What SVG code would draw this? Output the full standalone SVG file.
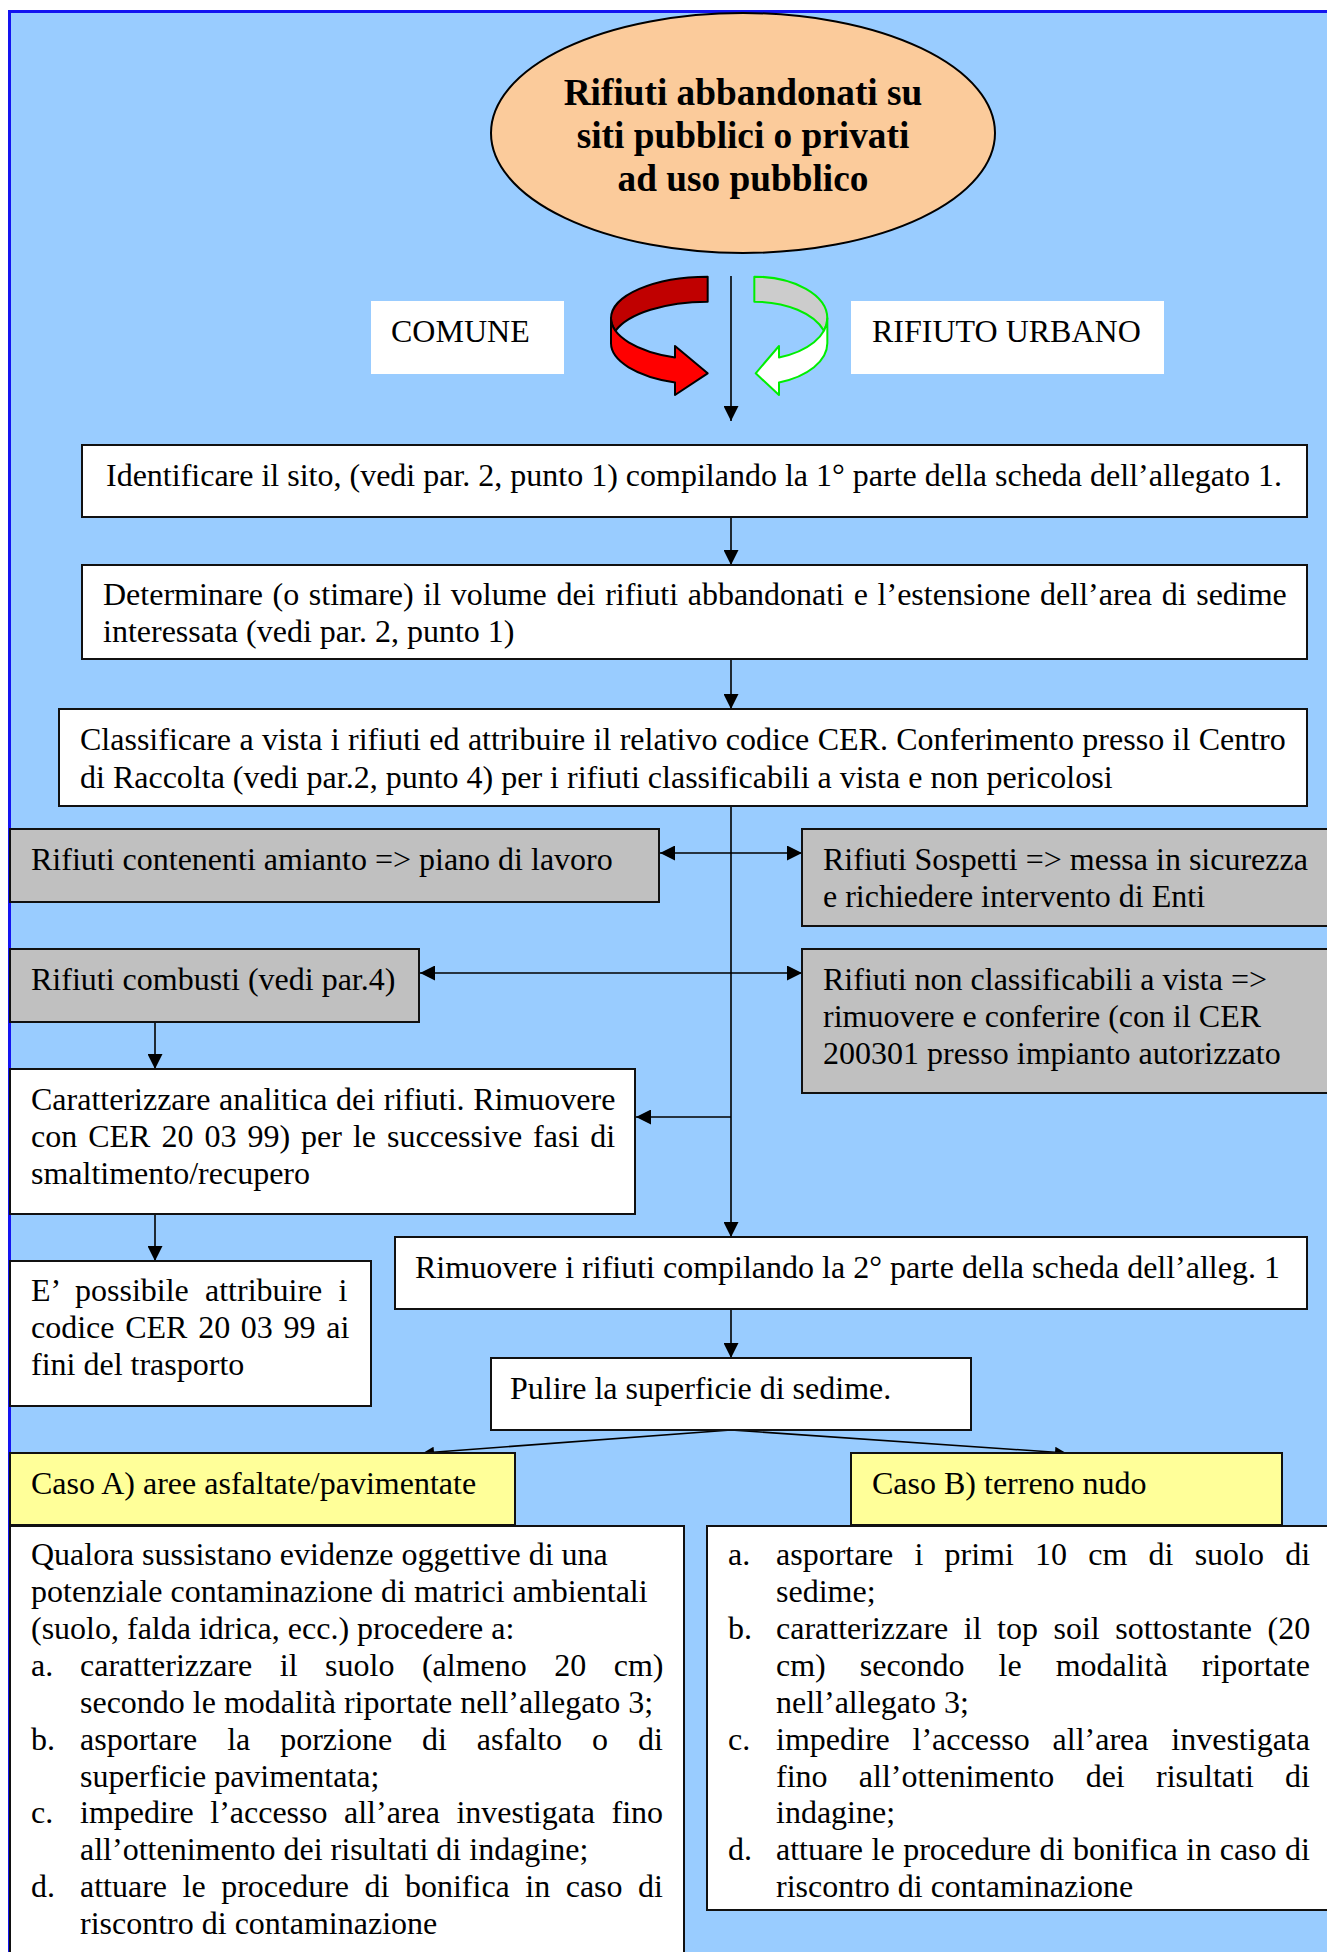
<svg xmlns="http://www.w3.org/2000/svg" width="1327" height="1952" viewBox="0 0 1327 1952">
<defs>
<style>
text{font-family:"Liberation Serif","Times New Roman",serif;font-size:32px;fill:#000}
.t{font-weight:bold;font-size:37.3px}
.w{fill:#FFFFFF;stroke:#111;stroke-width:2}
.g{fill:#C0C0C0;stroke:#111;stroke-width:2}
.y{fill:#FFFF99;stroke:#111;stroke-width:2}
.n{fill:#FFFFFF;stroke:none}
.c{fill:none;stroke:#000;stroke-width:1.6}
</style>
<marker id="ah" viewBox="0 0 16 16" refX="16" refY="8" markerWidth="15" markerHeight="15" markerUnits="userSpaceOnUse" orient="auto-start-reverse">
<path d="M0,0 L16,8 L0,16 Z" fill="#000"/>
</marker>
<marker id="as" viewBox="0 0 16 16" refX="16" refY="8" markerWidth="12" markerHeight="11" markerUnits="userSpaceOnUse" orient="auto">
<path d="M0,0 L16,8 L0,16 Z" fill="#000"/>
</marker>
</defs>
<rect x="9.5" y="11.5" width="1330" height="1950" fill="#99CCFF" stroke="#1414F0" stroke-width="3"/>

<g id="start">
<ellipse cx="743" cy="133" rx="252" ry="120" fill="#FBCB9B" stroke="#000" stroke-width="2"/>
<text class="t" x="743" y="105" text-anchor="middle">Rifiuti abbandonati su</text>
<text class="t" x="743" y="148" text-anchor="middle">siti pubblici o privati</text>
<text class="t" x="743" y="191" text-anchor="middle">ad uso pubblico</text>
</g>

<g id="comune">
<rect class="n" x="371" y="301" width="193" height="73"/>
<text x="391" y="342">COMUNE</text>
</g>
<g id="rifiuto-urbano">
<rect class="n" x="851" y="301" width="313" height="73"/>
<text x="872" y="342">RIFIUTO URBANO</text>
</g>

<g id="red-arrow" stroke="#000" stroke-width="2" stroke-linejoin="round">
<path d="M707.67,276.67 A96.67,41.67 0 0 0 611,318.33 A96.67,41.67 0 0 0 615.47,330.83 A96.67,41.67 0 0 1 707.67,301.67 Z" fill="#C00000"/>
<path d="M611,318.33 L611,343.33 A96.67,41.67 0 0 0 675,382.5 L675,395 L707.67,373.33 L675,346 L675,357.5 A96.67,41.67 0 0 1 611,318.33 Z" fill="#FF0000"/>
</g>
<g id="green-arrow" stroke="#00EE00" stroke-width="2" stroke-linejoin="round">
<path d="M754.33,276.67 A73,41.67 0 0 1 827.33,318.33 A73,41.67 0 0 1 823.97,330.83 A73,41.67 0 0 0 754.33,301.67 Z" fill="#CCCCCC"/>
<path d="M827.33,318.33 L827.33,343.33 A73,41.67 0 0 1 779,382.5 L779,395 L755.67,373.33 L779,346 L779,357.5 A73,41.67 0 0 0 827.33,318.33 Z" fill="#FFFFFF"/>
</g>

<g id="connectors">
<line class="c" x1="731" y1="276" x2="731" y2="421" marker-end="url(#ah)"/>
<line class="c" x1="731" y1="517" x2="731" y2="565" marker-end="url(#ah)"/>
<line class="c" x1="731" y1="659" x2="731" y2="709" marker-end="url(#ah)"/>
<line class="c" x1="731" y1="806" x2="731" y2="1237" marker-end="url(#ah)"/>
<line class="c" x1="660" y1="853" x2="802" y2="853" marker-start="url(#ah)" marker-end="url(#ah)"/>
<line class="c" x1="420" y1="973" x2="802" y2="973" marker-start="url(#ah)" marker-end="url(#ah)"/>
<line class="c" x1="731" y1="1117" x2="636" y2="1117" marker-end="url(#ah)"/>
<line class="c" x1="155" y1="1022" x2="155" y2="1069" marker-end="url(#ah)"/>
<line class="c" x1="155" y1="1214" x2="155" y2="1261" marker-end="url(#ah)"/>
<line class="c" x1="731" y1="1309" x2="731" y2="1358" marker-end="url(#ah)"/>
<line class="c" x1="731" y1="1430" x2="423" y2="1453" marker-end="url(#as)"/>
<line class="c" x1="731" y1="1430" x2="1066" y2="1453" marker-end="url(#as)"/>
</g>

<g id="identificare">
<rect class="w" x="82" y="445" width="1225" height="72"/>
<text x="106" y="486">Identificare il sito, (vedi par. 2, punto 1) compilando la 1° parte della scheda dell’allegato 1.</text>
</g>
<g id="determinare">
<rect class="w" x="82" y="565" width="1225" height="94"/>
<text x="103" y="605" word-spacing="1.65">Determinare (o stimare) il volume dei rifiuti abbandonati e l’estensione dell’area di sedime</text>
<text x="103" y="642">interessata (vedi par. 2, punto 1)</text>
</g>
<g id="classificare">
<rect class="w" x="59" y="709" width="1248" height="97"/>
<text x="80" y="750" word-spacing="0.37">Classificare a vista i rifiuti ed attribuire il relativo codice CER. Conferimento presso il Centro</text>
<text x="80" y="788">di Raccolta (vedi par.2, punto 4) per i rifiuti classificabili a vista e non pericolosi</text>
</g>
<g id="amianto">
<rect class="g" x="10" y="829" width="649" height="73"/>
<text x="31" y="870">Rifiuti contenenti amianto =&gt; piano di lavoro</text>
</g>
<g id="sospetti">
<rect class="g" x="802" y="829" width="530" height="97"/>
<text x="823" y="870">Rifiuti Sospetti =&gt; messa in sicurezza</text>
<text x="823" y="907">e richiedere intervento di Enti</text>
</g>
<g id="combusti">
<rect class="g" x="10" y="949" width="409" height="73"/>
<text x="31" y="990">Rifiuti combusti (vedi par.4)</text>
</g>
<g id="non-classificabili">
<rect class="g" x="802" y="949" width="530" height="144"/>
<text x="823" y="990">Rifiuti non classificabili a vista =&gt;</text>
<text x="823" y="1027">rimuovere e conferire (con il CER</text>
<text x="823" y="1064">200301 presso impianto autorizzato</text>
</g>
<g id="caratterizzare">
<rect class="w" x="10" y="1069" width="625" height="145"/>
<text x="31" y="1110" word-spacing="0.6">Caratterizzare analitica dei rifiuti. Rimuovere</text>
<text x="31" y="1147" word-spacing="3">con CER 20 03 99) per le successive fasi di</text>
<text x="31" y="1184">smaltimento/recupero</text>
</g>
<g id="possibile">
<rect class="w" x="10" y="1261" width="361" height="145"/>
<text x="31" y="1301" word-spacing="8.2">E’ possibile attribuire i</text>
<text x="31" y="1338" word-spacing="2.7">codice CER 20 03 99 ai</text>
<text x="31" y="1375">fini del trasporto</text>
</g>
<g id="rimuovere">
<rect class="w" x="395" y="1237" width="912" height="72"/>
<text x="415" y="1278">Rimuovere i rifiuti compilando la 2° parte della scheda dell’alleg. 1</text>
</g>
<g id="pulire">
<rect class="w" x="491" y="1358" width="480" height="72"/>
<text x="510" y="1399">Pulire la superficie di sedime.</text>
</g>
<g id="caso-a">
<rect class="y" x="10" y="1453" width="505" height="72"/>
<text x="31" y="1494">Caso A) aree asfaltate/pavimentate</text>
</g>
<g id="caso-b">
<rect class="y" x="851" y="1453" width="431" height="72"/>
<text x="872" y="1494">Caso B) terreno nudo</text>
</g>
<g id="procedura-a">
<rect class="w" x="10" y="1526" width="674" height="440"/>
<text x="31" y="1565">Qualora sussistano evidenze oggettive di una</text>
<text x="31" y="1602">potenziale contaminazione di matrici ambientali</text>
<text x="31" y="1639">(suolo, falda idrica, ecc.) procedere a:</text>
<text x="31" y="1676">a.</text>
<text x="80" y="1676" word-spacing="19.5">caratterizzare il suolo (almeno 20 cm)</text>
<text x="80" y="1713">secondo le modalità riportate nell’allegato 3;</text>
<text x="31" y="1750">b.</text>
<text x="80" y="1750" word-spacing="21.9">asportare la porzione di asfalto o di</text>
<text x="80" y="1787">superficie pavimentata;</text>
<text x="31" y="1823">c.</text>
<text x="80" y="1823" word-spacing="8.5">impedire l’accesso all’area investigata fino</text>
<text x="80" y="1860">all’ottenimento dei risultati di indagine;</text>
<text x="31" y="1897">d.</text>
<text x="80" y="1897" word-spacing="7.5">attuare le procedure di bonifica in caso di</text>
<text x="80" y="1934">riscontro di contaminazione</text>
</g>
<g id="procedura-b">
<rect class="w" x="707" y="1526" width="630" height="384"/>
<text x="728" y="1565">a.</text>
<text x="776" y="1565" word-spacing="13.2">asportare i primi 10 cm di suolo di</text>
<text x="776" y="1602">sedime;</text>
<text x="728" y="1639">b.</text>
<text x="776" y="1639" word-spacing="7.5">caratterizzare il top soil sottostante (20</text>
<text x="776" y="1676" word-spacing="26">cm) secondo le modalità riportate</text>
<text x="776" y="1713">nell’allegato 3;</text>
<text x="728" y="1750">c.</text>
<text x="776" y="1750" word-spacing="14.8">impedire l’accesso all’area investigata</text>
<text x="776" y="1787" word-spacing="23.3">fino all’ottenimento dei risultati di</text>
<text x="776" y="1823">indagine;</text>
<text x="728" y="1860">d.</text>
<text x="776" y="1860" word-spacing="0.5">attuare le procedure di bonifica in caso di</text>
<text x="776" y="1897">riscontro di contaminazione</text>
</g>
</svg>
